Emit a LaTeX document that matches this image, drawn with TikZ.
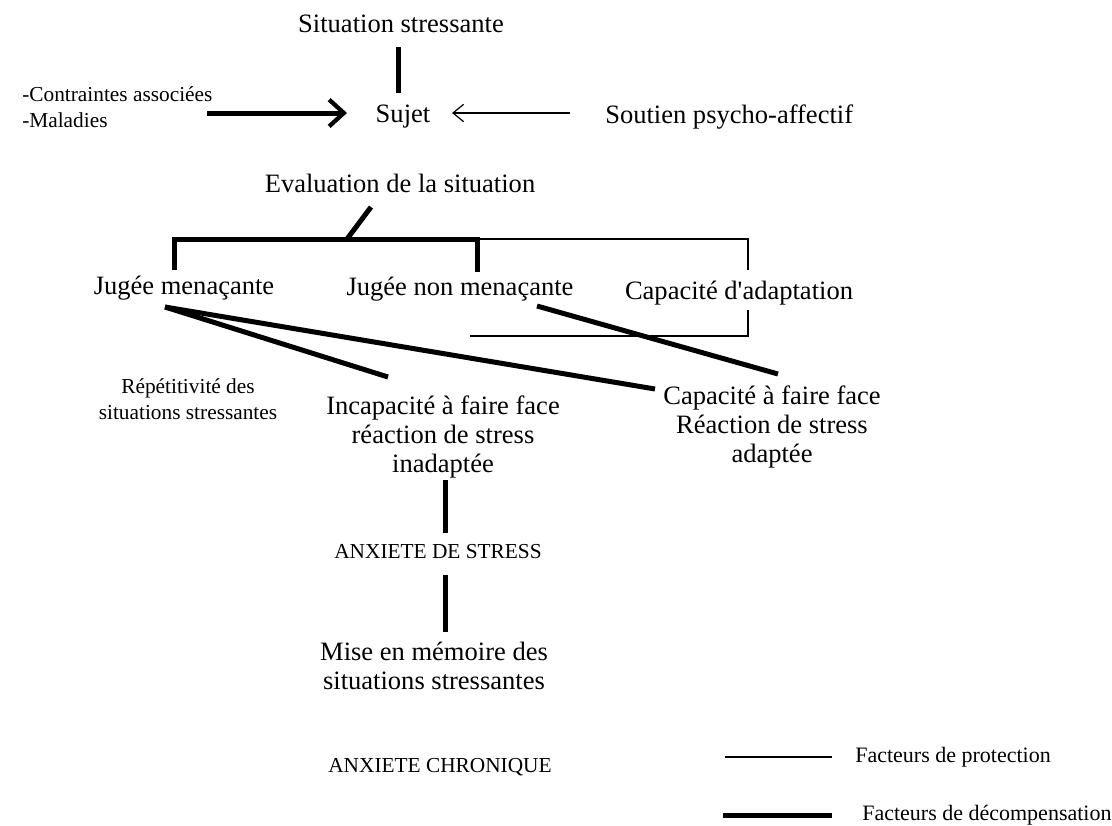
\documentclass[tikz,border=0pt]{standalone}
\usepackage{fontspec}
\setmainfont{Liberation Serif}
\usetikzlibrary{arrows.meta}
\begin{document}
\begin{tikzpicture}[x=0.75pt,y=-0.75pt,
  big/.style={font=\fontsize{19.9}{21.8}\selectfont, inner sep=0pt, align=center},
  small/.style={font=\fontsize{16}{19.5}\selectfont, inner sep=0pt, align=center},
  leg/.style={font=\fontsize{16.5}{20}\selectfont, inner sep=0pt, anchor=west},
  decomp/.style={line width=3.75pt},
  protect/.style={line width=1.1pt},
  thickbarb/.style={-{Straight Barb[length=11pt,width=20pt,line width=3.2pt]}},
  thinbarb/.style={-{Straight Barb[length=8pt,width=13pt,line width=0.9pt]}},
]
\useasboundingbox[fill=white] (0,0) rectangle (1112,825);

% text nodes
\node[big] (sit) at (401,24) {Situation stressante};
\node[big] (suj) at (403,117) {Sujet};
\node[small, align=left, anchor=west] (con) at (22,107) {-Contraintes associées\\-Maladies};
\node[big, anchor=west] (sou) at (605,117) {Soutien psycho-affectif};
\node[big] (eva) at (400,183) {Evaluation de la situation};
\node[big] (jm) at (184,288) {Jugée menaçante};
\node[big] (jnm) at (460,289) {Jugée non menaçante};
\node[big] (cad) at (739,293) {Capacité d\textquotesingle adaptation};
\node[small] (rep) at (188,399) {Répétitivité des\\situations stressantes};
\node[big] (inc) at (443,437) {Incapacité à faire face\\réaction de stress\\inadaptée};
\node[big] (cap) at (772,427) {Capacité à faire face\\Réaction de stress\\adaptée};
\node[small] (ads) at (438,552) {ANXIETE DE STRESS};
\node[big] (mem) at (434,666) {Mise en mémoire des\\situations stressantes};
\node[small] (ach) at (440,767) {ANXIETE CHRONIQUE};
\node[leg] (lpt) at (855,757) {Facteurs de protection};
\node[leg] (ldt) at (862,815) {Facteurs de décompensation};

% connector end points
\coordinate (sitb) at (398,47);
\coordinate (sujt) at (398,93);
\coordinate (conr) at (207,113);
\coordinate (sujl) at (347,113);
\coordinate (soul) at (570,113);
\coordinate (sujr) at (452,113);
\coordinate (evab) at (371,207);
\coordinate (brm) at (347,239);
\coordinate (brl) at (174,239);
\coordinate (jmt) at (174,270);
\coordinate (brr) at (477,239);
\coordinate (jnmt) at (477,272);
\coordinate (cadtr) at (748,239);
\coordinate (cadt) at (748,270);
\coordinate (cadb) at (748,310);
\coordinate (cadbr) at (748,336);
\coordinate (cadbl) at (470,336);
\coordinate (jmo) at (165,307);
\coordinate (inct) at (388,377);
\coordinate (capt) at (655,389);
\coordinate (jnmo) at (537,306);
\coordinate (capt2) at (778,374);
\coordinate (incb) at (445,480);
\coordinate (adst) at (445,533);
\coordinate (adsb) at (445,575);
\coordinate (memt) at (445,632);
\coordinate (lp1) at (725,757);
\coordinate (lp2) at (832,757);
\coordinate (ld1) at (723,815);
\coordinate (ld2) at (832,815);

% decompensation (thick)
\draw[decomp] (sitb) -- (sujt);
\draw[decomp, thickbarb] (conr) -- (sujl);
\draw[decomp] (evab) -- (brm);
\draw[decomp] (jmt) -- (brl) -- (brr) -- (jnmt);
\draw[decomp] (jmo) -- (inct);
\draw[decomp] (jmo) -- (capt);
\draw[decomp] (jnmo) -- (capt2);
\draw[decomp] (incb) -- (adst);
\draw[decomp] (adsb) -- (memt);
\draw[decomp] (ld1) -- (ld2);

% protection (thin)
\draw[protect, thinbarb] (soul) -- (sujr);
\draw[protect] (brr) -- (cadtr) -- (cadt);
\draw[protect] (cadb) -- (cadbr) -- (cadbl);
\draw[protect] (lp1) -- (lp2);
\end{tikzpicture}
\end{document}
